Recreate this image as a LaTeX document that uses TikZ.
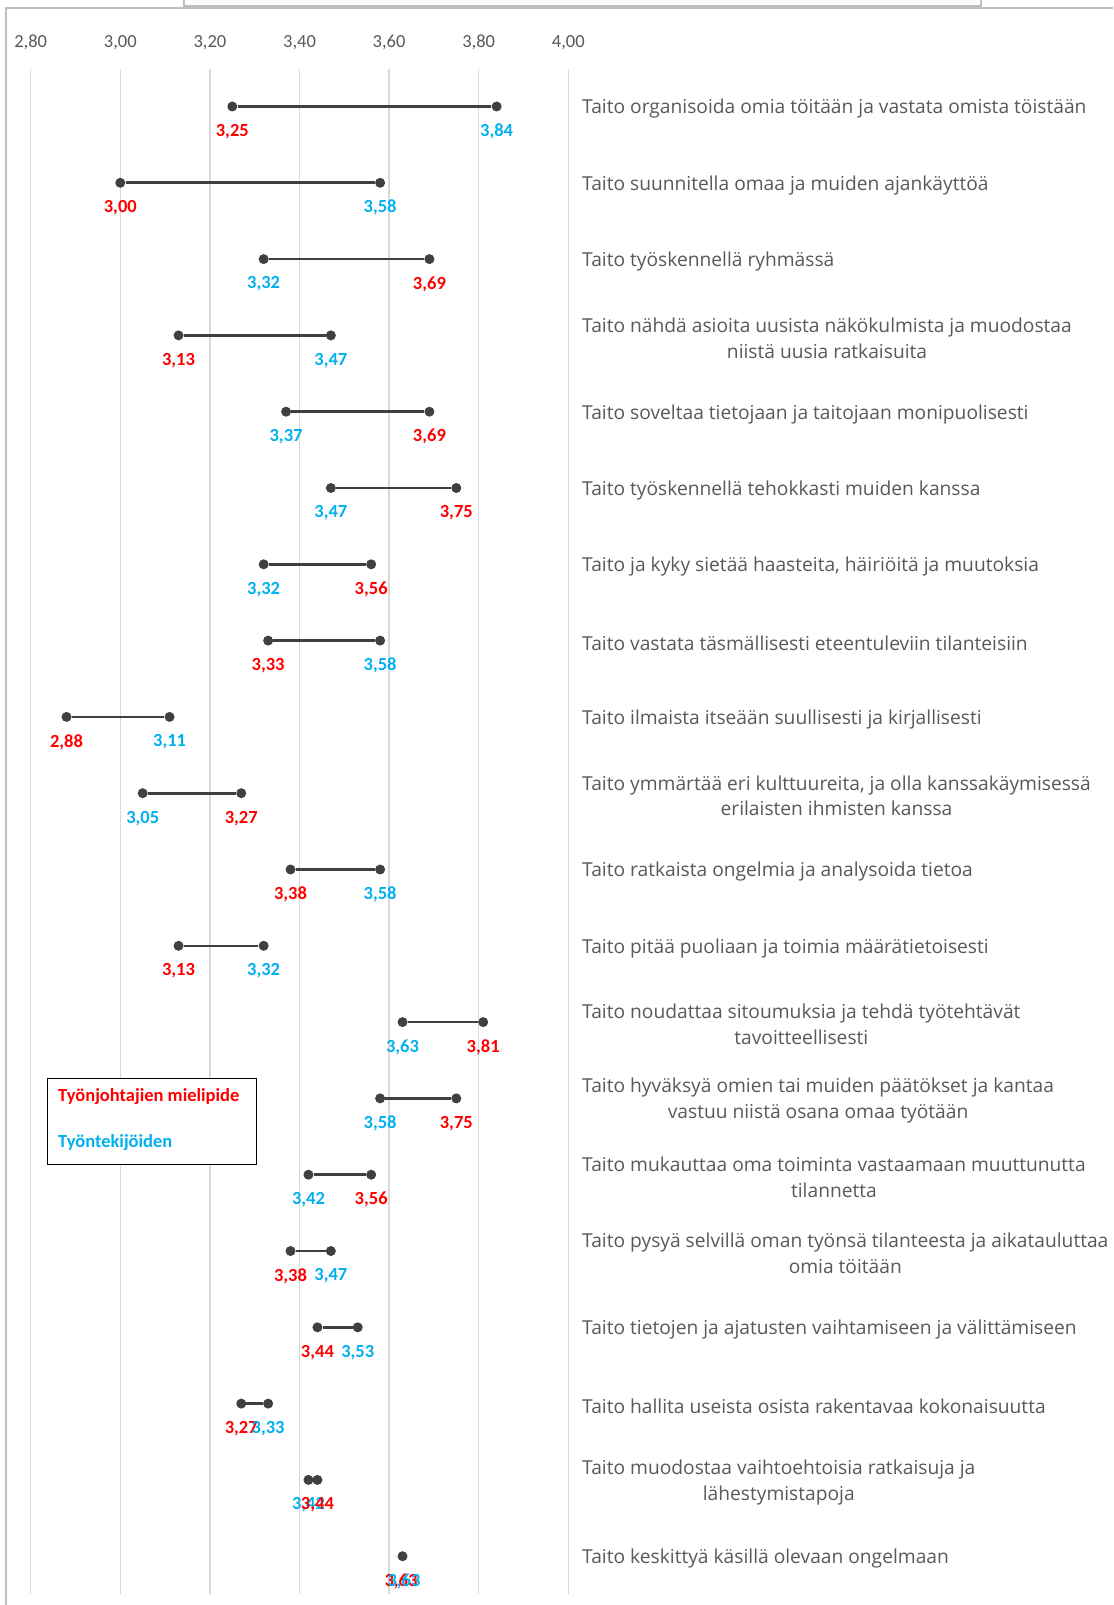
\documentclass[tikz,border=0pt]{standalone}
\usepackage{fontspec}
\setmainfont{Carlito}
\newfontfamily\catfont{Open Sans}
\begin{document}
\definecolor{txtgray}{HTML}{595959}
\definecolor{dotgray}{HTML}{404040}
\definecolor{gridgray}{HTML}{D9D9D9}
\definecolor{framegray}{HTML}{BFBFBF}
\definecolor{supred}{HTML}{FF0000}
\definecolor{empblue}{HTML}{00B0F0}
\begin{tikzpicture}[x=1pt,y=-1pt,
  dot/.style={circle,fill=dotgray,inner sep=0pt,minimum size=10pt},
  bar/.style={draw=dotgray,line width=2.6pt},
  val/.style={font=\fontsize{18.5}{22}\selectfont\bfseries,inner sep=0pt},
  cat/.style={font=\catfont\fontsize{19.2}{25.8}\selectfont,text=txtgray,align=center,anchor=west,inner sep=0pt},
  tick/.style={font=\fontsize{18.5}{22}\selectfont,text=txtgray,inner sep=0pt},
  grid/.style={draw=gridgray,line width=1.3pt},
  legtxt/.style={font=\fontsize{18.5}{22}\selectfont\bfseries,anchor=west,inner sep=0pt}]
\useasboundingbox (0,0) rectangle (1113,1605);
\fill[white] (0,0) rectangle (1113,1605);

% chart frame and the box above it
\draw[framegray,line width=1.2pt] (6,1605) -- (6,8) -- (1113,8);
\draw[framegray,line width=1.2pt] (184,-2) -- (184,6) -- (981,6) -- (981,-2);

% vertical grid and axis values
\foreach \v/\t [count=\k] in {2.8/{2,80},3.0/{3,00},3.2/{3,20},3.4/{3,40},3.6/{3,60},3.8/{3,80},4.0/{4,00}}{
  \pgfmathsetmacro\gx{30.7+448*(\v-2.8)}
  \coordinate (gt\k) at (\gx,68.6);
  \coordinate (gb\k) at (\gx,1594);
  \draw[grid] (gt\k) -- (gb\k);
  \node[tick] (ax\k) at (\gx,42.5) {\t};
}

\newcommand\skillrow[8]{%
  \pgfmathsetmacro\ry{106.5+76.3*(#1-1)}%
  \pgfmathsetmacro\xl{30.7+448*(#2-2.8)}%
  \pgfmathsetmacro\xr{30.7+448*(#5-2.8)}%
  \node[dot] (l#1) at (\xl,\ry) {};
  \node[dot] (r#1) at (\xr,\ry) {};
  \draw[bar] (l#1) -- (r#1);
  \node[val,text=#4] (lv#1) at (\xl,\ry+25) {#3};
  \node[val,text=#7] (rv#1) at (\xr,\ry+25) {#6};
  \node[cat] (c#1) at (582,\ry+2.5) {#8};
}

\skillrow{1}{3.25}{3,25}{supred}{3.84}{3,84}{empblue}{Taito organisoida omia töitään ja vastata omista töistään}
\skillrow{2}{3.00}{3,00}{supred}{3.58}{3,58}{empblue}{Taito suunnitella omaa ja muiden ajankäyttöä}
\skillrow{3}{3.32}{3,32}{empblue}{3.69}{3,69}{supred}{Taito työskennellä ryhmässä}
\skillrow{4}{3.13}{3,13}{supred}{3.47}{3,47}{empblue}{Taito nähdä asioita uusista näkökulmista ja muodostaa\\niistä uusia ratkaisuita}
\skillrow{5}{3.37}{3,37}{empblue}{3.69}{3,69}{supred}{Taito soveltaa tietojaan ja taitojaan monipuolisesti}
\skillrow{6}{3.47}{3,47}{empblue}{3.75}{3,75}{supred}{Taito työskennellä tehokkasti muiden kanssa}
\skillrow{7}{3.32}{3,32}{empblue}{3.56}{3,56}{supred}{Taito ja kyky sietää haasteita, häiriöitä ja muutoksia}
\skillrow{8}{3.33}{3,33}{supred}{3.58}{3,58}{empblue}{Taito vastata täsmällisesti eteentuleviin tilanteisiin}
\skillrow{9}{2.88}{2,88}{supred}{3.11}{3,11}{empblue}{Taito ilmaista itseään suullisesti ja kirjallisesti}
\skillrow{10}{3.05}{3,05}{empblue}{3.27}{3,27}{supred}{Taito ymmärtää eri kulttuureita, ja olla kanssakäymisessä\\erilaisten ihmisten kanssa}
\skillrow{11}{3.38}{3,38}{supred}{3.58}{3,58}{empblue}{Taito ratkaista ongelmia ja analysoida tietoa}
\skillrow{12}{3.13}{3,13}{supred}{3.32}{3,32}{empblue}{Taito pitää puoliaan ja toimia määrätietoisesti}
\skillrow{13}{3.63}{3,63}{empblue}{3.81}{3,81}{supred}{Taito noudattaa sitoumuksia ja tehdä työtehtävät\\tavoitteellisesti}
\skillrow{14}{3.58}{3,58}{empblue}{3.75}{3,75}{supred}{Taito hyväksyä omien tai muiden päätökset ja kantaa\\vastuu niistä osana omaa työtään}
\skillrow{15}{3.42}{3,42}{empblue}{3.56}{3,56}{supred}{Taito mukauttaa oma toiminta vastaamaan muuttunutta\\tilannetta}
\skillrow{16}{3.38}{3,38}{supred}{3.47}{3,47}{empblue}{Taito pysyä selvillä oman työnsä tilanteesta ja aikatauluttaa\\omia töitään}
\skillrow{17}{3.44}{3,44}{supred}{3.53}{3,53}{empblue}{Taito tietojen ja ajatusten vaihtamiseen ja välittämiseen}
\skillrow{18}{3.27}{3,27}{supred}{3.33}{3,33}{empblue}{Taito hallita useista osista rakentavaa kokonaisuutta}
\skillrow{19}{3.42}{3,42}{empblue}{3.44}{3,44}{supred}{Taito muodostaa vaihtoehtoisia ratkaisuja ja\\lähestymistapoja}

% last row: both groups give the same mean
\pgfmathsetmacro\ry{106.5+76.3*19}
\pgfmathsetmacro\xm{30.7+448*(3.63-2.8)}
\node[dot] (m20) at (\xm,\ry) {};
\node[val,text=supred] (lv20) at (\xm-1.5,\ry+25) {3,63};
\node[val,text=empblue] (rv20) at (\xm+1.5,\ry+25) {3,63};
\node[cat] (c20) at (582,\ry+2.5) {Taito keskittyä käsillä olevaan ongelmaan};

% legend
\node[draw=black,line width=1.3pt,fill=white,minimum width=209pt,minimum height=86pt,inner sep=0pt,anchor=north west] (legend) at (47,1078) {};
\node[legtxt,text=supred] (leg1) at (58,1097) {Työnjohtajien mielipide};
\node[legtxt,text=empblue] (leg2) at (58,1143) {Työntekijöiden};
\end{tikzpicture}
\end{document}
